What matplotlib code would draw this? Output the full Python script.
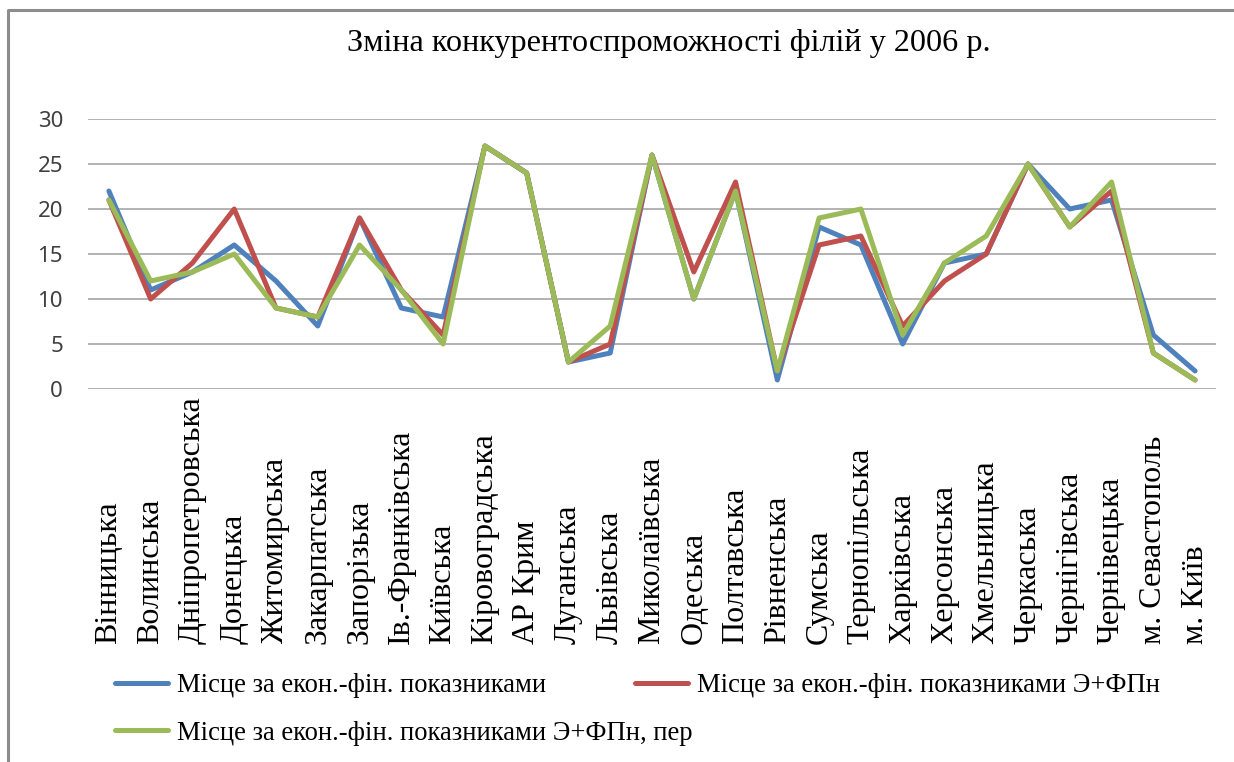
import matplotlib
matplotlib.use("Agg")
import matplotlib.pyplot as plt
from matplotlib.lines import Line2D
from matplotlib.transforms import blended_transform_factory

# Regions (branches) in ranking order
regions = [
    "Вінницька", "Волинська", "Дніпропетровська", "Донецька", "Житомирська",
    "Закарпатська", "Запорізька", "Ів.-Франківська", "Київська", "Кіровоградська",
    "АР Крим", "Луганська", "Львівська", "Миколаївська", "Одеська", "Полтавська",
    "Рівненська", "Сумська", "Тернопільська", "Харківська", "Херсонська",
    "Хмельницька", "Черкаська", "Чернігівська", "Чернівецька", "м. Севастополь",
    "м. Київ",
]

# Place by economic-financial indicators
place_base = [22, 11, 13, 16, 12, 7, 19, 9, 8, 27, 24, 3, 4, 26, 10, 22, 1,
              18, 16, 5, 14, 15, 25, 20, 21, 6, 2]
# Place by indicators E+FPn
place_efp = [21, 10, 14, 20, 9, 8, 19, 11, 6, 27, 24, 3, 5, 26, 13, 23, 2,
             16, 17, 7, 12, 15, 25, 18, 22, 4, 1]
# Place by indicators E+FPn, recalculated
place_efp_per = [21, 12, 13, 15, 9, 8, 16, 11, 5, 27, 24, 3, 7, 26, 10, 22, 2,
                 19, 20, 6, 14, 17, 25, 18, 23, 4, 1]

series_names = [
    "Місце за екон.-фін. показниками",
    "Місце за екон.-фін. показниками Э+ФПн",
    "Місце за екон.-фін. показниками Э+ФПн, пер",
]
series_values = [place_base, place_efp, place_efp_per]
series_colors = ["#4F81BD", "#C0504D", "#9BBB59"]

y_ticks = [0, 5, 10, 15, 20, 25, 30]

title = "Зміна конкурентоспроможності філій у 2006 р."

W, H = 1234, 762
fig = plt.figure(figsize=(W / 100, H / 100), dpi=100)
fig.patch.set_facecolor("white")


def fx(px):
    return px / W


def fy(py):
    return 1 - py / H


ax = fig.add_axes([fx(88), fy(389), fx(1216) - fx(88), fy(119) - fy(389)])
x = list(range(len(regions)))

lw = 3.6
for vals, color in zip(series_values, series_colors):
    ax.plot(x, vals, color=color, lw=lw, solid_joinstyle="round",
            solid_capstyle="round", clip_on=False, zorder=3)

ax.set_xlim(-0.5, len(regions) - 0.5)
ax.set_ylim(0, 30)
ax.set_yticks(y_ticks)
ax.set_yticklabels([str(v) for v in y_ticks], fontfamily="Noto Sans",
                   fontsize=16, color="#404040")
ax.tick_params(axis="y", length=0, pad=18)
ax.set_xticks([])
ax.grid(axis="y", color="#a6a6a6", lw=1.2)
ax.set_axisbelow(True)
for sp in ax.spines.values():
    sp.set_visible(False)

# Vertical category labels, aligned at the bottom
trans = blended_transform_factory(ax.transData, fig.transFigure)
for i, name in enumerate(regions):
    ax.text(i, fy(644), name, transform=trans, rotation=90, ha="center",
            va="bottom", fontfamily="Liberation Serif", fontsize=23,
            color="black", rotation_mode="default")

# Title
fig.text(fx(669), fy(44), title, ha="center", va="center",
         fontfamily="Liberation Serif", fontsize=23.2, color="black")

# Legend entries
legend_pos = [(115, 686), (635, 686), (115, 733)]
for name, color, (lx, ly) in zip(series_names, series_colors, legend_pos):
    handle = Line2D([], [], color=color, lw=lw, solid_capstyle="round")
    fig.legend([handle], [name], loc="center left",
               bbox_to_anchor=(fx(lx), fy(ly)), frameon=False,
               borderpad=0, borderaxespad=0, handlelength=2.0,
               handletextpad=0.32,
               prop={"family": "Liberation Serif", "size": 19.2})

# Chart area frame (top and left edges)
fig.add_artist(Line2D([fx(8), fx(8), 1], [0, fy(10), fy(10)],
                      color="#8c8c8c", lw=2.2, transform=fig.transFigure))

fig.savefig("out.png", dpi=100, facecolor="white")
